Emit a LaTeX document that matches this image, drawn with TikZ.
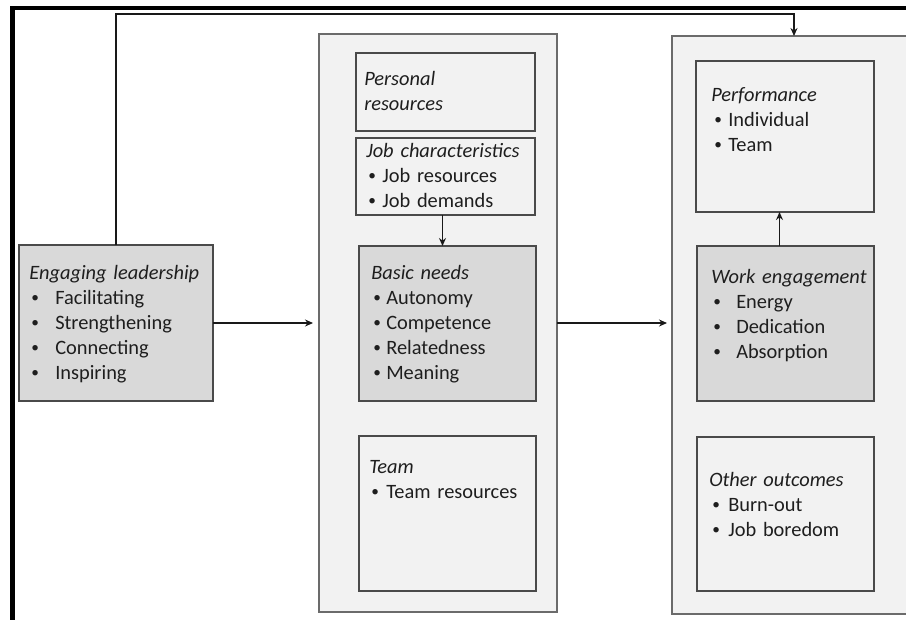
\documentclass[tikz,border=0pt]{standalone}
\usepackage{fontspec}
\setmainfont{Carlito}
\usetikzlibrary{arrows.meta,fit}
\definecolor{lightfill}{HTML}{F2F2F2}
\definecolor{darkfill}{HTML}{D9D9D9}
\definecolor{panelline}{HTML}{6B6B6B}
\definecolor{cardline}{HTML}{4A4A4A}
\definecolor{textcol}{HTML}{1E1E1E}
\newlength\px \setlength\px{0.75pt}
% small bullet glyph
\newcommand\smallbullet{\raisebox{0.9pt}{\fontsize{11.5}{11.5}\selectfont\textbullet}}
% bullet line: bullet offset, text offset, item text
\newcommand\bitem[3]{\makebox[#2][l]{\hspace*{#1}\smallbullet}#3}
\begin{document}
\begin{tikzpicture}[x=0.75pt,y=-0.75pt,
  panel/.style={draw=panelline, fill=lightfill, line width=1.3\px, inner sep=0pt, outer sep=0pt},
  card/.style={draw=cardline, fill=lightfill, line width=1.4\px, inner sep=0pt, outer sep=0pt},
  darkcard/.style={card, fill=darkfill},
  label/.style={anchor=base west, inner sep=0pt, align=left, text width=180\px,
    font=\fontsize{15.3}{18.75}\selectfont, text=textcol},
  link/.style={draw=black!90, line width=1.3\px, -{Stealth[length=6pt,width=5.25pt]}}
]
\useasboundingbox (0,0) rectangle (906,619);
\clip (0,0) rectangle (906,619);
\fill[white] (0,0) rectangle (906,619);

% page frame
\draw[line width=4.5\px, line join=miter] (12.5,630) -- (12.5,8) -- (915,8);

% left block
\node[darkcard, fit={(19,245) (213,401)}] (lead) {};

% middle panel and its cards
\node[panel, fit={(319,34) (557,612)}] (mid) {};
\node[card, fit={(356,53) (535,131)}] (pers) {};
\node[card, fit={(356,138) (535,215)}] (job) {};
\node[darkcard, fit={(359,246) (536,401)}] (needs) {};
\node[card, fit={(359,436) (536,591)}] (team) {};

% right panel and its cards
\node[panel, fit={(672,36) (916,614)}] (out) {};
\node[card, fit={(696,61) (874,212)}] (perf) {};
\node[darkcard, fit={(697,246) (874,401)}] (work) {};
\node[card, fit={(697,437) (874,591)}] (other) {};

% texts
\node[label] (leadT) at (29,279) {\textit{Engaging leadership}\\
  \bitem{2\px}{26\px}{Facilitating}\\
  \bitem{2\px}{26\px}{Strengthening}\\
  \bitem{2\px}{26\px}{Connecting}\\
  \bitem{2\px}{26\px}{Inspiring}};
\node[label] (persT) at (364,85) {\textit{Personal}\\ \textit{resources}};
\node[label] (jobT) at (366,157) {\textit{Job characteristics}\\
  \bitem{2\px}{16\px}{Job resources}\\
  \bitem{2\px}{16\px}{Job demands}};
\node[label] (needsT) at (371,279) {\textit{Basic needs}\\
  \bitem{2\px}{15\px}{Autonomy}\\
  \bitem{2\px}{15\px}{Competence}\\
  \bitem{2\px}{15\px}{Relatedness}\\
  \bitem{2\px}{15\px}{Meaning}};
\node[label] (teamT) at (369,473) {\textit{Team}\\
  \bitem{2\px}{17\px}{Team resources}};
\node[label] (perfT) at (711,101) {\textit{Performance}\\
  \bitem{3\px}{17\px}{Individual}\\
  \bitem{3\px}{17\px}{Team}};
\node[label] (workT) at (711,283) {\textit{Work engagement}\\
  \bitem{2\px}{25\px}{Energy}\\
  \bitem{2\px}{25\px}{Dedication}\\
  \bitem{2\px}{25\px}{Absorption}};
\node[label] (otherT) at (709,486) {\textit{Other outcomes}\\
  \bitem{3\px}{19\px}{Burn-out}\\
  \bitem{3\px}{19\px}{Job boredom}};

% connectors
\coordinate (topline) at (450,14);
\draw[link] (lead.north) |- (topline) -| (out.north);
\draw[link, shorten >=6\px] (lead.east) -- (lead.east -| mid.west);
\draw[link, shorten >=5\px] (mid.east |- lead.east) -- (out.west |- lead.east);
\draw[link] ([xshift=-3\px]job.south) -- ([xshift=-3\px]job.south |- needs.north);
\draw[link] ([xshift=-6\px]work.north) -- ([xshift=-6\px]work.north |- perf.south);
\end{tikzpicture}
\end{document}
